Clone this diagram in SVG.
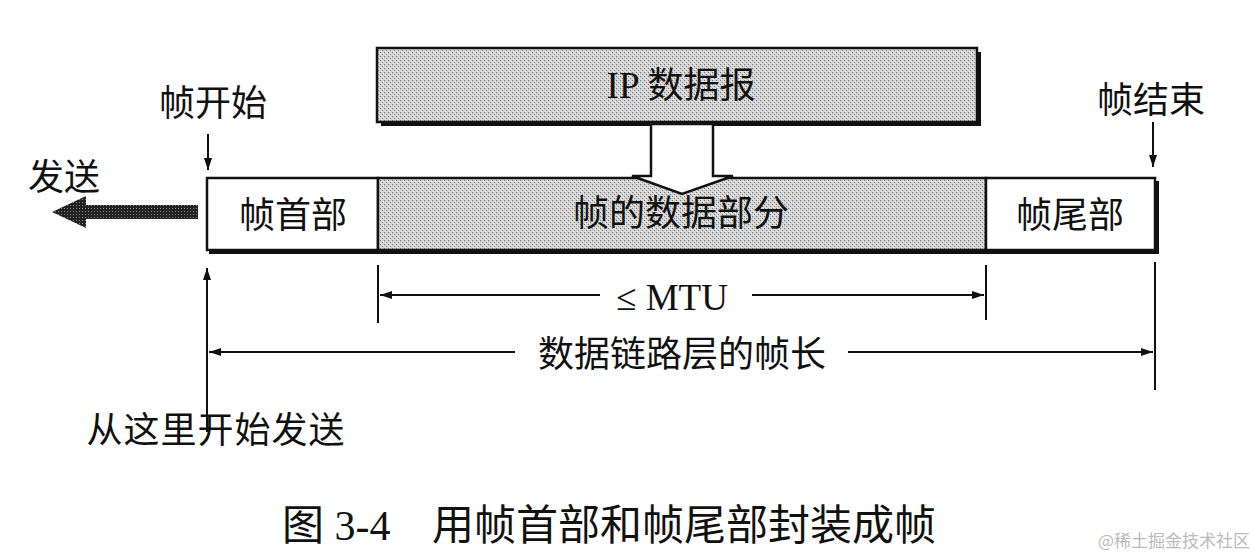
<svg xmlns="http://www.w3.org/2000/svg" width="1258" height="556" viewBox="0 0 1258 556">
<style>
text{font-family:"Liberation Serif","Noto Sans CJK SC",serif;fill:#111;}
.cn{font-family:"Noto Sans CJK SC",sans-serif;font-size:36px;font-weight:400;}
.lat{font-family:"Liberation Serif","Noto Sans CJK SC",serif;font-size:37px;}
.cap{font-size:42px;}
.box{stroke:#111;stroke-width:2.5;}
.dim{stroke:#111;stroke-width:2;fill:none;}
</style>
<defs>
<pattern id="stip" width="4" height="4" patternUnits="userSpaceOnUse">
<rect width="4" height="4" fill="#d2d2d2"/>
<rect x="0" y="0" width="1" height="1" fill="#777"/>
<rect x="2" y="2" width="1" height="1" fill="#888"/>
<rect x="3" y="1" width="1" height="1" fill="#f2f2f2"/>
<rect x="1" y="3" width="1" height="1" fill="#f2f2f2"/>
</pattern>
<pattern id="dark" width="3" height="3" patternUnits="userSpaceOnUse">
<rect width="3" height="3" fill="#222"/>
<rect x="1" y="1" width="1" height="1" fill="#888"/>
</pattern>
<marker id="ah" viewBox="0 0 12 8" refX="12" refY="4" markerWidth="12" markerHeight="8" markerUnits="userSpaceOnUse" orient="auto">
<path d="M0,0 L12,4 L0,8 Z" fill="#111"/>
</marker>
</defs>

<g id="ip-datagram">
<rect x="381" y="52" width="600" height="74" fill="#111"/>
<rect x="377" y="48" width="600" height="74" fill="url(#stip)" class="box"/>
<text x="681" y="98" text-anchor="middle" class="lat">IP <tspan class="cn">数据报</tspan></text>
</g>

<g id="frame">
<rect x="209" y="181" width="950" height="73" fill="#111"/>
<g id="frame-header">
<rect x="207" y="178" width="171" height="72" fill="#fff" class="box"/>
<text x="293" y="228" text-anchor="middle" class="cn">帧首部</text>
</g>
<g id="frame-data">
<rect x="378" y="178" width="608" height="72" fill="url(#stip)" class="box"/>
<text x="681" y="226" text-anchor="middle" class="cn">帧的数据部分</text>
</g>
<g id="frame-trailer">
<rect x="986" y="178" width="169" height="72" fill="#fff" class="box"/>
<text x="1070" y="228" text-anchor="middle" class="cn">帧尾部</text>
</g>
</g>

<g id="hollow-arrow">
<path d="M651,124 L713,124 L713,176 L733,176 L682,194 L632,176 L651,176 Z" fill="#fff" stroke="#111" stroke-width="2.5" stroke-linejoin="miter"/>
</g>

<g id="labels">
<text x="213" y="116" text-anchor="middle" class="cn">帧开始</text>
<text x="1151" y="113" text-anchor="middle" class="cn">帧结束</text>
<text x="64" y="190" text-anchor="middle" class="cn">发送</text>
<text x="216" y="443" text-anchor="middle" class="cn" letter-spacing="1">从这里开始发送</text>
</g>

<g id="connectors">
<line x1="208" y1="134" x2="208" y2="170" class="dim" marker-end="url(#ah)"/>
<line x1="1153" y1="122" x2="1153" y2="167" class="dim" marker-end="url(#ah)"/>
<path d="M198,205 L86,205 L86,196 L52,212 L86,228 L86,219 L198,219 Z" fill="url(#dark)"/>
<line x1="207" y1="432" x2="207" y2="268" class="dim" marker-end="url(#ah)"/>
<line x1="378" y1="265" x2="378" y2="323" class="dim"/>
<line x1="986" y1="265" x2="986" y2="320" class="dim"/>
<line x1="1155" y1="262" x2="1155" y2="390" class="dim"/>
<line x1="600" y1="295" x2="380" y2="295" class="dim" marker-end="url(#ah)"/>
<line x1="752" y1="295" x2="984" y2="295" class="dim" marker-end="url(#ah)"/>
<line x1="515" y1="352" x2="209" y2="352" class="dim" marker-end="url(#ah)"/>
<line x1="848" y1="352" x2="1153" y2="352" class="dim" marker-end="url(#ah)"/>
</g>

<g id="dim-labels">
<text x="672" y="310" text-anchor="middle" class="lat">≤ MTU</text>
<text x="682" y="367" text-anchor="middle" class="cn">数据链路层的帧长</text>
</g>

<g id="caption">
<text x="282" y="540" class="lat cap">图 3-4</text>
<text x="432" y="540" class="cn cap">用帧首部和帧尾部封装成帧</text>
</g>
<text x="1250" y="547" text-anchor="end" style="font-family:'Noto Sans CJK SC',sans-serif;font-size:17px;fill:#bbb;">@稀土掘金技术社区</text>
</svg>
